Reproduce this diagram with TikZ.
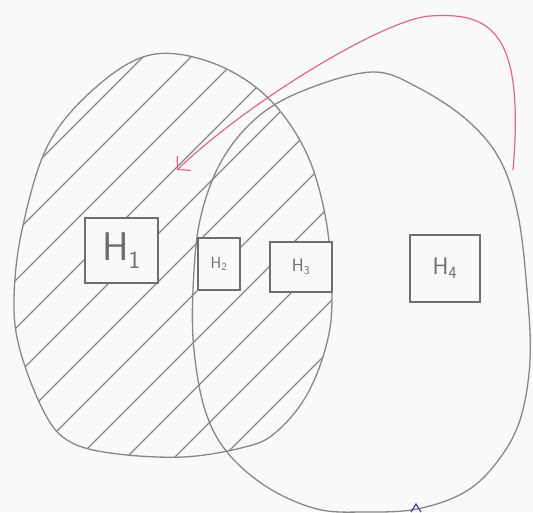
\documentclass[tikz,border=0pt]{standalone}
\usetikzlibrary{arrows.meta}
\definecolor{ink}{RGB}{135,135,138}
\definecolor{boxink}{RGB}{110,110,112}
\definecolor{redink}{RGB}{225,105,125}
\definecolor{blueink}{RGB}{70,60,160}
\definecolor{paper}{RGB}{249,249,251}
\tikzset{
  outline/.style={draw=ink, line width=1.3pt},
  hatchline/.style={draw=ink, line width=1.1pt},
  hbox/.style={draw=boxink, fill=paper, line width=2pt, inner sep=0pt, text=boxink, font=\sffamily},
  redarrow/.style={draw=redink, line width=1.2pt, -{Straight Barb[length=9pt,width=20pt]}},
}
\begin{document}
\begin{tikzpicture}[x=1pt,y=-1pt]
\fill[paper] (0,0) rectangle (533,512);
\useasboundingbox (0,0) rectangle (533,512);
\def\leftshape{plot[smooth cycle, tension=0.6] coordinates {(150,55) (210,62) (265,95) (305,150) (326,220) (332,300) (325,350) (305,398) (275,433) (245,447) (183,457) (110,453) (67,440) (43,410) (20,350) (14,300) (22,230) (48,145) (95,88)}}
\def\rightshape{plot[smooth cycle, tension=0.6] coordinates {(373,72) (417,87) (467,120) (500,160) (518,215) (527,290) (530,360) (520,420) (497,462) (465,492) (417,509) (365,512) (317,509) (267,487) (227,452) (205,410) (194,350) (193,290) (200,220) (222,160) (260,115) (310,88)}}
% hatching of the left set
\begin{scope}
  \clip \leftshape;
  \foreach \i in {-560,-512,...,400} \draw[hatchline] (\i,520) -- ++(600,-600);
\end{scope}
\draw[outline] \leftshape;
\draw[outline] \rightshape;
% boxes
\node[hbox, minimum width=73pt, minimum height=65pt] (h1) at (121.5,250.5) {\fontsize{40}{40}\selectfont H$_{\mathsf{1}}$};
\node[hbox, minimum width=42pt, minimum height=52pt] (h2) at (219,264) {\fontsize{16}{16}\selectfont H$_{\mathsf{2}}$};
\node[hbox, minimum width=62pt, minimum height=50pt] (h3) at (301,267) {\fontsize{18}{18}\selectfont H$_{\mathsf{3}}$};
\node[hbox, minimum width=70pt, minimum height=67pt] (h4) at (445,268.5) {\fontsize{24}{24}\selectfont H$_{\mathsf{4}}$};
% red arrow
\coordinate (rs) at (513,170);
\coordinate (re) at (177,170);
\draw[redarrow] (rs) .. controls (525,30) and (490,12) .. (430,16) .. controls (385,19) and (250,100) .. (re);
% blue mark at the bottom
\coordinate (b1) at (411,512);
\coordinate (b2) at (416,504);
\coordinate (b3) at (421,512);
\draw[blueink, line width=1.2pt] (b1) -- (b2) -- (b3);
\end{tikzpicture}
\end{document}
